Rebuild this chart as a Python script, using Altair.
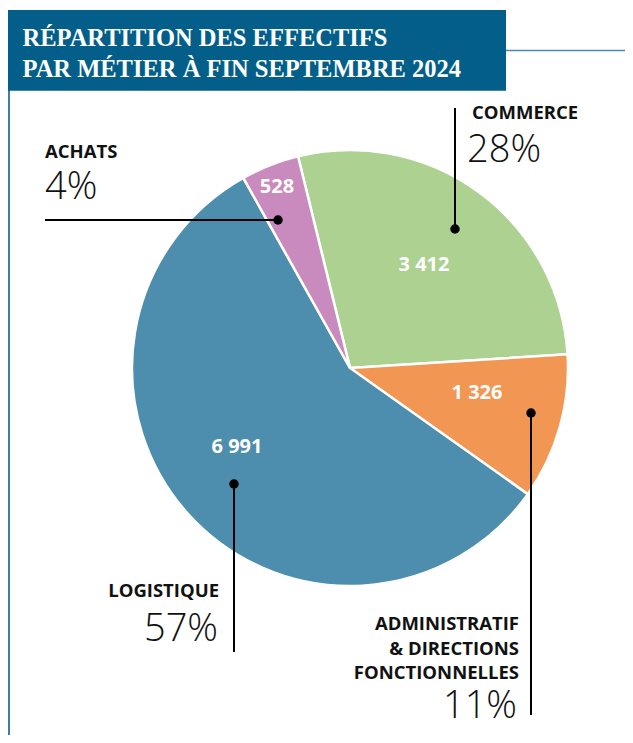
import math
import altair as alt
import pandas as pd

# ---- data ----
categories = ["COMMERCE", "ADMINISTRATIF\n& DIRECTIONS\nFONCTIONNELLES", "LOGISTIQUE", "ACHATS"]
effectifs = [3412, 1326, 6991, 528]
colors = ["#acd190", "#f29654", "#4d8dad", "#c98abd"]
title_lines = ["RÉPARTITION DES EFFECTIFS", "PAR MÉTIER À FIN SEPTEMBRE 2024"]

total = sum(effectifs)
pct_labels = [f"{round(v / total * 100)}%" for v in effectifs]
val_labels = [f"{v:,}".replace(",", " ") for v in effectifs]

# ---- layout (page pixel coordinates) ----
W, H = 617, 727
CX, CY, R = 350, 368, 218
START = math.radians(-13.8)
val_pos = [(424, 271), (477, 399), (237, 453), (277, 193)]
dots = [(455, 229), (531, 413), (234, 484), (278, 220)]
ends = [(455, 108), (531, 715), (234, 652), (45, 220)]
name_pos = [(472, 119, "left"), (519, 630, "right"), (219, 597, "right"), (45, 158, "left")]
pct_pos = [(467, 162, "left"), (517, 718, "right"), (218, 641, "right"), (45, 199, "left")]

xs = alt.Scale(domain=[8, 8 + W], range=[0, W])
ys = alt.Scale(domain=[8, 8 + H], range=[0, H])

df = pd.DataFrame({
    "cat": categories,
    "value": effectifs,
    "idx": list(range(len(categories))),
    "val": val_labels,
    "pct": pct_labels,
    "vx": [p[0] for p in val_pos], "vy": [p[1] for p in val_pos],
    "dx0": [p[0] for p in dots], "dy0": [p[1] for p in dots],
    "ex": [p[0] for p in ends], "ey": [p[1] for p in ends],
    "nx": [p[0] for p in name_pos], "ny": [p[1] for p in name_pos], "na": [p[2] for p in name_pos],
    "px": [p[0] for p in pct_pos], "py": [p[1] for p in pct_pos], "pa": [p[2] for p in pct_pos],
})

base = alt.Chart(df)

pie = base.mark_arc(radius=R, stroke="white", strokeWidth=2.5).encode(
    theta=alt.Theta("value:Q", stack=True,
                    scale=alt.Scale(range=[START, START + 2 * math.pi])),
    color=alt.Color("cat:N", scale=alt.Scale(domain=categories, range=colors), legend=None),
    order=alt.Order("idx:Q"),
    x=alt.value(CX - 8), y=alt.value(CY - 8),
)

values = base.mark_text(font="Open Sans", fontWeight="bold", fontSize=20,
                        color="white", align="center", baseline="alphabetic").encode(
    x=alt.X("vx:Q", scale=xs, axis=None), y=alt.Y("vy:Q", scale=ys, axis=None), text="val:N")

leaders = base.mark_rule(color="black", strokeWidth=2).encode(
    x=alt.X("dx0:Q", scale=xs, axis=None), y=alt.Y("dy0:Q", scale=ys, axis=None),
    x2="ex:Q", y2="ey:Q")

dots_l = base.mark_circle(color="black", opacity=1, size=90).encode(
    x=alt.X("dx0:Q", scale=xs, axis=None), y=alt.Y("dy0:Q", scale=ys, axis=None))

def names(align):
    return base.transform_filter(alt.datum.na == align).mark_text(
        font="Open Sans", fontWeight="bold", fontSize=18.5, color="#111111",
        align=align, baseline="alphabetic", lineBreak="\n", lineHeight=24.5).encode(
        x=alt.X("nx:Q", scale=xs, axis=None), y=alt.Y("ny:Q", scale=ys, axis=None), text="cat:N")

def pcts(align):
    return base.transform_filter(alt.datum.pa == align).mark_text(
        font="Open Sans", fontWeight=300, fontSize=38, color="#111111",
        align=align, baseline="alphabetic").encode(
        x=alt.X("px:Q", scale=xs, axis=None), y=alt.Y("py:Q", scale=ys, axis=None), text="pct:N")

# frame: title box, top rule and left rule
frame_df = pd.DataFrame({"x": [8], "x2": [506], "y": [10], "y2": [90.7]})
title_box = alt.Chart(frame_df).mark_rect(color="#035f89").encode(
    x=alt.X("x:Q", scale=xs, axis=None), x2="x2:Q",
    y=alt.Y("y:Q", scale=ys, axis=None), y2="y2:Q")

top_rule = alt.Chart(pd.DataFrame({"x": [506], "x2": [8 + W], "y": [50.5]})).mark_rule(
    color="#4c87ae", strokeWidth=1.5).encode(
    x=alt.X("x:Q", scale=xs, axis=None), x2="x2:Q", y=alt.Y("y:Q", scale=ys, axis=None))

left_rule = alt.Chart(pd.DataFrame({"x": [9], "y": [50], "y2": [8 + H]})).mark_rule(
    color="#3a7fab", strokeWidth=2).encode(
    x=alt.X("x:Q", scale=xs, axis=None), y=alt.Y("y:Q", scale=ys, axis=None), y2="y2:Q")

title_df = pd.DataFrame({"t": title_lines, "x": [22.5, 22.5], "y": [45.7, 76.7]})
title = alt.Chart(title_df).mark_text(
    font="Liberation Serif", fontSize=24.5, fontWeight="bold", color="white",
    align="left", baseline="alphabetic").encode(
    x=alt.X("x:Q", scale=xs, axis=None), y=alt.Y("y:Q", scale=ys, axis=None), text="t:N")

chart = alt.layer(
    left_rule, top_rule, title_box, title,
    pie, values, leaders, dots_l,
    names("left"), names("right"), pcts("left"), pcts("right"),
).properties(
    width=W, height=H, padding=0, autosize=alt.AutoSizeParams(type="none"),
).configure_view(stroke=None).resolve_scale(color="independent")

chart.save("out.html", embed_options={"renderer": "svg", "actions": False})
